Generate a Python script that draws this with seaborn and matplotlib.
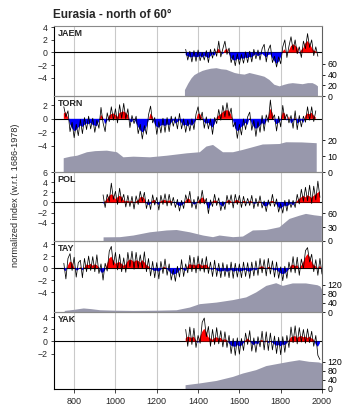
import numpy as np
import matplotlib
matplotlib.use("Agg")
import matplotlib.pyplot as plt
import seaborn as sns

sns.set_theme(style="ticks")
plt.rcParams['font.family'] = ['Liberation Sans', 'DejaVu Sans']

# ---------------- data (10-year steps) ----------------
panel_names = ["JAEM", "TORN", "POL", "TAY", "YAK"]

jaem_start = 1340
jaem_annual = [0.5, -1.2, 0.2, -1.5, 0.3, -1.4, 0.4, -1.3, 0.0, -1.2, 0.3, -1.6, 0.5, -0.9, 0.6, -0.6,
               1.8, -0.7, 0.6, 1.8, -0.3, 0.7, -1.6, -0.4, -2.1, -0.2, -1.9, -0.3, -1.7, 0.1, -1.6, 0.2,
               -1.5, 0.5, -1.0, 0.4, -1.2, 0.6, 1.3, -1.5, 0.4, 1.2, -1.6, -0.6, -2.3, -0.7, -1.8, 0.9,
               2.0, -0.8, 1.0, 2.5, 0.4, 2.0, -0.2, 0.9, -0.8, 1.8, 0.6, 3.0, 0.8, 2.0, -0.5, 0.9, -0.6]
jaem_smooth = [-0.4, -0.6, -0.7, -0.8, -0.6, -0.8, -0.7, -0.6, -0.8, -0.5, -0.7, -0.9, -0.6, -0.3, -0.5,
               0.2, 0.6, 0.1, -0.3, 0.4, 0.6, -0.2, -0.9, -1.2, -1.3, -1.0, -1.2, -0.9, -1.0, -0.8, -0.9,
               -0.7, -0.8, -0.5, -0.3, -0.6, -0.4, -0.2, -0.5, -0.8, -0.4, -0.3, -0.9, -1.4, -1.8, -1.5,
               -0.8, 0.2, 0.5, -0.2, 0.3, 1.0, 1.3, 1.1, 0.8, -0.2, 0.4, 0.7, 1.5, 1.8, 1.4, 0.8, 0.3, 0.2, -0.1]
jaem_depth_years = [1334, 1350, 1366, 1380, 1398, 1420, 1438, 1460, 1487, 1510, 1535, 1555, 1575, 1600, 1623,
                    1647, 1679, 1700, 1719, 1743, 1767, 1792, 1816, 1836, 1856, 1880, 1904, 1930, 1952, 1968, 1978]
jaem_depth = [12, 24, 34, 40, 44, 48, 50, 52, 53, 51, 50, 47, 44, 42, 41, 44, 41, 39, 37, 31, 22, 19, 22, 24,
              25, 24, 23, 25, 25, 22, 19]

torn_start = 750
torn_annual = [1.8, 0.3, 1.2, -1.9, -0.5, -2.8, -0.8, -2.5, -0.1, -2.2, 0.2, -1.6, 0.4, -1.5, 0.1, -2.0, -0.2,
               -1.4, 1.7, -0.6, -1.9, 0.9, -0.4, 1.8, -0.2, 1.5, -0.6, 2.1, 0.1, 2.3, 0.0, 1.5, -1.3, 0.5,
               -0.7, 0.4, -2.2, -0.8, -3.0, -1.0, -2.3, 0.6, 1.9, -0.6, 0.2, -2.3, -0.4, -2.1, 0.1, -2.0,
               0.2, -1.9, 0.4, -1.1, 0.3, -1.5, 0.8, -1.5, 0.0, -2.0, -0.2, -1.8, 0.0, -1.6, 0.7, 1.8, -0.2,
               1.0, -1.4, 0.3, -1.5, 0.0, -2.3, 0.2, -0.7, 1.4, -0.2, 2.0, 0.3, 2.4, 0.4, 1.6, -1.2, -0.5,
               -2.9, -0.8, -2.4, 0.0, -1.6, 0.3, 1.0, -1.7, -0.2, -2.6, -0.4, -2.0, 0.5, -1.8, 0.6, -0.5,
               2.8, 0.0, 0.6, -1.8, 0.4, -1.2, 2.0, -0.1, 0.7, -0.6, 0.5, -1.4, 1.2, -1.6, 0.5, -1.2, 0.4,
               -0.5, 1.8, -0.2, 1.8, -0.4, 1.2]
torn_smooth = [0.8, 1.0, 0.2, -0.8, -1.4, -1.8, -1.7, -1.3, -1.0, -1.2, -0.9, -0.7, -0.8, -0.6, -0.9, -1.0,
               -1.1, -0.4, 0.6, 0.2, -0.8, -0.3, 0.5, 0.7, 0.8, 0.6, 0.3, 0.9, 1.0, 1.1, 0.9, 0.6, -0.4, -0.5,
               0.1, -0.6, -1.2, -1.7, -2.0, -1.8, -1.2, -0.3, 0.8, 0.3, -0.8, -1.2, -1.3, -1.0, -0.9, -1.1,
               -0.8, -1.0, -0.6, -0.2, -0.7, -0.5, -0.2, -0.6, -1.0, -0.9, -1.1, -0.8, -1.0, -0.7, -0.2, 0.8,
               0.7, 0.1, -0.5, -0.7, -0.6, -1.0, -1.3, -0.8, 0.2, 0.5, 0.7, 1.0, 1.2, 1.3, 1.2, 0.6, -0.3,
               -1.4, -1.8, -1.7, -1.2, -1.0, -0.6, -0.9, 0.2, -0.7, -1.2, -1.5, -1.3, -1.0, -0.6, -0.9, -0.4,
               0.3, 1.5, 0.9, -0.4, -0.8, -0.6, -0.2, 1.0, 0.8, -0.3, 0.4, -0.7, -0.4, 0.3, -0.7, -0.5, -0.2,
               -0.6, 0.5, 0.8, 0.7, 0.9, 0.5, 0.2]
torn_depth_years = [747, 780, 812, 860, 900, 956, 1005, 1036, 1085, 1165, 1246, 1342, 1406, 1438, 1470, 1518,
                    1567, 1615, 1663, 1711, 1792, 1824, 1900, 1972]
torn_depth = [9, 10, 10.6, 12.8, 13.5, 13.8, 12.8, 9.6, 10, 9.6, 10.6, 12.1, 12.8, 16.4, 17.4, 12.8, 12.8,
              14.3, 16, 17.7, 18, 19.1, 19, 18.5]

pol_start = 940
pol_annual = [1.5, -1.0, 1.6, 0.2, 3.8, 0.6, 2.2, -0.4, 2.8, 0.2, 1.6, -0.9, 1.4, -0.8, 1.2, -1.3, 1.3, -0.4,
              2.2, 0.2, 2.0, -1.2, 0.6, -1.4, 1.5, -0.5, 1.0, -1.5, 1.4, -0.4, 1.7, -0.7, 1.6, -0.6, 1.0,
              -1.0, 0.6, -1.7, 0.4, -1.2, 1.5, 0.0, 2.2, -1.0, 0.6, -1.3, 1.2, -0.3, 2.4, -0.3, 0.8, -2.2,
              0.5, -0.8, 1.6, -0.6, 0.9, -1.6, 0.2, -1.4, 1.4, -0.4, 1.5, -1.1, 1.6, -0.4, 1.4, -1.0, 1.2,
              -0.7, 0.8, -0.6, 1.4, -1.2, 0.8, -0.8, 1.3, -1.1, 0.3, -1.8, 0.5, -0.7, 1.6, -0.8, 0.7, -1.9,
              -0.2, -2.1, 0.4, -1.7, 0.6, -1.0, 0.4, -1.0, 1.6, -0.3, 2.6, 0.2, 3.0, 0.3, 3.4, -0.2, 3.2,
              0.5, 4.2, 1.0]
pol_smooth = [-0.3, 0.2, 0.7, 1.3, 1.6, 1.4, 0.6, 1.0, 1.3, 1.1, 0.4, 0.2, 0.3, 0.1, 0.3, -0.1, 0.2, 0.4, 1.0,
              1.1, 0.8, -0.2, -0.5, -0.3, 0.4, 0.5, -0.2, -0.5, 0.3, 0.4, 0.5, 0.2, 0.4, 0.3, -0.1, 0.0,
              -0.5, -0.7, -0.6, -0.3, 0.3, 0.8, 0.6, -0.1, -0.4, -0.3, 0.2, 0.6, 1.0, 0.7, -0.3, -1.3, -0.6,
              0.2, 0.4, 0.3, -0.1, -0.6, -0.8, -0.3, 0.3, 0.5, 0.2, -0.2, 0.4, 0.5, 0.2, -0.1, 0.3, 0.2,
              -0.2, 0.3, 0.2, -0.3, -0.2, 0.1, 0.2, -0.2, -0.7, -0.8, -0.5, 0.2, 0.3, 0.1, -0.4, -1.0, -1.2,
              -0.9, -0.6, -0.8, -0.5, -0.2, -0.6, -0.1, 0.3, 0.7, 1.0, 1.3, 1.0, 1.4, 1.2, 0.9, 1.3, 1.6,
              1.9, 2.2]
pol_depth_years = [940, 1020, 1085, 1165, 1246, 1294, 1358, 1422, 1470, 1502, 1567, 1615, 1663, 1728, 1792,
                   1840, 1888, 1920, 1960, 1997]
pol_depth = [9, 9.4, 13, 20, 24, 25, 20, 13, 9.4, 13, 9.4, 10.8, 24, 25, 31, 49, 56, 60, 57, 55]

tay_start = 750
tay_annual = [0.8, -1.8, 1.6, 2.4, -0.4, 1.8, -1.5, 0.9, 1.3, -1.6, 1.6, -0.6, 2.0, -0.4, 1.9, -0.6, 2.2,
              -0.9, 0.7, -2.0, 0.8, -0.5, 2.8, 3.6, 0.5, 2.6, -0.3, 2.3, -0.6, 1.7, -0.7, 2.6, 0.2, 2.8,
              -0.2, 2.6, 0.0, 2.2, -0.1, 2.7, -0.6, 1.6, -1.3, 1.1, -1.6, 0.9, -1.8, 1.1, -0.9, 1.5, -1.2,
              0.7, -2.0, -0.2, -2.2, 0.3, -1.5, 1.4, -1.4, 0.7, -0.8, 2.1, -0.6, 1.8, -0.8, 2.0, -0.5, 1.6,
              -0.7, 1.9, -0.9, 1.0, -1.4, 1.3, -1.4, 0.8, -1.6, 0.9, -1.4, 0.6, -1.6, 1.0, -1.7, 0.8, -1.5,
              0.7, -1.6, 1.0, -1.4, 0.9, -1.7, 1.0, -1.3, 1.2, -1.2, 1.6, -0.8, 1.4, -1.3, 1.6, -1.0, 1.2,
              -1.5, 1.0, -1.7, 0.2, -2.1, 0.3, -1.7, 1.0, -0.7, 1.9, -0.8, 1.8, -1.2, 1.5, -0.1, 2.9, 3.4,
              1.0, 2.3, -0.6, 1.4, -1.2, 1.6, -1.0]
tay_smooth = [-0.3, -0.5, 0.4, 1.1, 0.9, 0.1, -0.4, -0.3, 0.2, -0.4, 0.1, 0.6, 0.5, 0.7, 0.4, 0.6, 0.5, 0.1,
              -0.7, -0.8, -0.3, 0.7, 1.6, 1.9, 1.3, 0.7, 0.9, 1.0, 0.7, 0.4, 0.6, 1.2, 1.4, 1.3, 1.0, 1.3,
              1.2, 0.9, 1.3, 1.0, 0.5, 0.3, -0.1, -0.3, -0.5, -0.4, -0.6, -0.3, 0.1, 0.2, -0.2, -0.5, -0.9,
              -1.1, -1.0, -0.8, -0.4, 0.1, -0.3, -0.5, 0.3, 0.7, 0.5, 0.6, 0.4, 0.7, 0.6, 0.4, 0.5, 0.6,
              0.2, -0.2, -0.3, 0.1, -0.4, -0.5, -0.6, -0.5, -0.4, -0.6, -0.5, -0.3, -0.6, -0.5, -0.4, -0.6,
              -0.5, -0.4, -0.3, -0.5, -0.6, -0.4, -0.2, -0.4, -0.1, 0.2, 0.3, 0.1, -0.2, 0.2, 0.1, -0.2,
              -0.4, -0.3, -0.6, -0.9, -1.0, -0.9, -0.6, -0.2, 0.4, 0.6, 0.3, 0.5, -0.1, 0.4, 1.0, 1.8, 2.3,
              1.9, 1.0, 0.5, 0.3, -0.1, 0.4, -0.2]
tay_depth_years = [752, 800, 844, 880, 924, 1000, 1085, 1200, 1294, 1358, 1406, 1487, 1567, 1631, 1679, 1728,
                   1776, 1808, 1856, 1920, 1976, 1990, 2000]
tay_depth = [7, 12, 18, 15, 10, 8, 7, 8, 10, 22, 37, 44, 55, 67, 89, 118, 130, 118, 129, 129, 121, 115, 96]

yak_start = 1340
yak_annual = [2.0, -0.8, 2.4, -0.5, 2.2, -1.0, 1.0, -0.3, 3.2, 3.9, 0.8, 2.5, -0.8, 2.0, -0.5, 2.3, -0.4,
              1.8, -0.9, 1.6, -1.0, 1.0, -2.0, 0.5, -2.3, 0.6, -2.1, 0.5, -1.5, 1.4, -0.5, 1.8, -1.6, 0.6,
              -1.8, 0.8, -0.9, 1.7, -1.4, 1.6, -1.5, 1.4, -1.4, 0.9, -2.0, 0.7, -2.2, 0.8, -1.8, 1.0, -1.0,
              2.4, -0.2, 2.6, -0.4, 2.3, -0.1, 2.0, -0.3, 2.1, -0.2, 1.7, -0.8, 1.0, -2.3, -3.0]
yak_smooth = [0.5, 0.8, 0.7, 0.6, 0.8, 0.2, -0.3, 0.8, 1.6, 2.1, 1.6, 0.7, 0.5, 0.3, 0.6, 0.7, 0.5, 0.6, 0.2,
              0.4, 0.2, -0.3, -0.7, -0.8, -0.9, -0.6, -0.8, -0.7, -0.3, 0.2, 0.5, 0.2, -0.4, -0.6, -0.3,
              -0.5, 0.1, 0.3, -0.2, 0.2, -0.3, 0.1, -0.2, -0.5, -0.7, -0.6, -0.8, -0.5, -0.6, -0.3, 0.2,
              0.7, 0.8, 0.9, 0.6, 0.8, 0.9, 0.7, 0.8, 0.6, 0.8, 0.5, 0.3, -0.5, -0.9, -0.3]
yak_depth_years = [1337, 1406, 1487, 1567, 1615, 1679, 1728, 1792, 1840, 1888, 1936, 1984, 1998]
yak_depth = [19, 27, 38, 56, 71, 86, 104, 115, 123, 130, 123, 120, 115]

x_ticks = [800, 1000, 1200, 1400, 1600, 1800, 2000]

panels = [
    dict(name="JAEM", start=jaem_start, annual=jaem_annual, smooth=jaem_smooth,
         dy=jaem_depth_years, d=jaem_depth, ylim=(-6.9, 4.2), yt=[-4, -2, 0, 2, 4],
         rlim=(0, 131), rt=[0, 20, 40, 60], box=(26, 96)),
    dict(name="TORN", start=torn_start, annual=torn_annual, smooth=torn_smooth,
         dy=torn_depth_years, d=torn_depth, ylim=(-7.9, 3.4), yt=[-4, -2, 0, 2],
         rlim=(0, 48), rt=[0, 10, 20], box=(96, 172)),
    dict(name="POL", start=pol_start, annual=pol_annual, smooth=pol_smooth,
         dy=pol_depth_years, d=pol_depth, ylim=(-7.6, 6.0), yt=[-4, -2, 0, 2, 4, 6],
         rlim=(0, 150), rt=[0, 30, 60], box=(172, 241)),
    dict(name="TAY", start=tay_start, annual=tay_annual, smooth=tay_smooth,
         dy=tay_depth_years, d=tay_depth, ylim=(-7.3, 4.5), yt=[-4, -2, 0, 2, 4],
         rlim=(0, 315), rt=[0, 40, 80, 120], box=(241, 312)),
    dict(name="YAK", start=yak_start, annual=yak_annual, smooth=yak_smooth,
         dy=yak_depth_years, d=yak_depth, ylim=(-7.9, 4.9), yt=[-2, 0, 2, 4],
         rlim=(0, 342), rt=[0, 40, 80, 120], box=(312, 389)),
]

W, H = 351, 417
fig = plt.figure(figsize=(W / 100, H / 100), dpi=100)
left_px, right_px = 53.5, 322

depth_color = "#9898ac"
edge_gray = "#8a8a8a"

for i, p in enumerate(panels):
    top, bot = p["box"]
    ax = fig.add_axes([left_px / W, 1 - bot / H, (right_px - left_px) / W, (bot - top) / H])
    ax2 = ax.twinx()

    ya = np.arange(p["start"], p["start"] + 10 * len(p["annual"]), 10)
    ys = np.arange(p["start"], p["start"] + 10 * len(p["smooth"]), 10)
    s = np.array(p["smooth"], dtype=float)

    # vertical grid lines beneath the depth area (drawn on the twin)
    for xt in x_ticks[:-1]:
        ax2.axvline(xt, color="#c9c9c9", lw=0.8, zorder=0.5)
    ax2.grid(False)
    ax2.fill_between(p["dy"], 0, p["d"], color=depth_color, lw=0, zorder=1)
    ax2.set_ylim(*p["rlim"])
    ax2.set_yticks(p["rt"])
    ax2.tick_params(axis="y", direction="out", length=2.5, width=0.6, labelsize=6.3, pad=1.5,
                    colors="black")
    for sp in ax2.spines.values():
        sp.set_visible(False)

    # primary axes drawn above the twin (transparent background)
    ax.set_zorder(ax2.get_zorder() + 1)
    ax.patch.set_visible(False)
    ax.grid(False)

    ax.axhline(0, color="black", lw=0.8, zorder=2)
    ax.fill_between(ys, s, 0, where=s >= 0, interpolate=True, color="#ff0000", lw=0, zorder=3)
    ax.fill_between(ys, s, 0, where=s <= 0, interpolate=True, color="#0000ff", lw=0, zorder=3)
    sns.lineplot(x=ya, y=p["annual"], ax=ax, color="black", linewidth=0.55, zorder=4)

    ax.set_xlim(700, 2000)
    ax2.set_xlim(700, 2000)
    ax.set_ylim(*p["ylim"])
    ax.set_yticks(p["yt"])
    ax.set_xticks(x_ticks)
    ax.set_ylabel("")
    ax.tick_params(axis="y", direction="out", length=2.5, width=0.6, labelsize=6.3, pad=1.5)
    ax.text(0.015, 0.96, p["name"], transform=ax.transAxes, fontsize=6.5, fontweight="bold",
            va="top", ha="left")

    ax.spines["left"].set_color("black")
    ax.spines["left"].set_linewidth(0.8)
    ax.spines["right"].set_visible(True)
    ax.spines["right"].set_color("#606060")
    ax.spines["right"].set_linewidth(0.8)
    ax.spines["top"].set_visible(True)
    ax.spines["top"].set_color(edge_gray)
    ax.spines["top"].set_linewidth(0.8)
    ax.spines["bottom"].set_color(edge_gray)
    ax.spines["bottom"].set_linewidth(0.8)

    if i == len(panels) - 1:
        ax.spines["bottom"].set_color("black")
        ax.tick_params(axis="x", direction="out", length=3, width=0.6, labelsize=6.5, pad=3)
    else:
        ax.tick_params(axis="x", length=0, labelbottom=False)

fig.text(53 / W, 1 - 15 / H, "Eurasia - north of 60\u00b0", fontsize=8.5, fontweight="bold",
         va="center", ha="left")
fig.text(16 / W, 1 - 195 / H, "normalized index (w.r.t. 1686-1978)", rotation=90, fontsize=6.6,
         va="center", ha="center")

fig.savefig("out.png", dpi=100)
